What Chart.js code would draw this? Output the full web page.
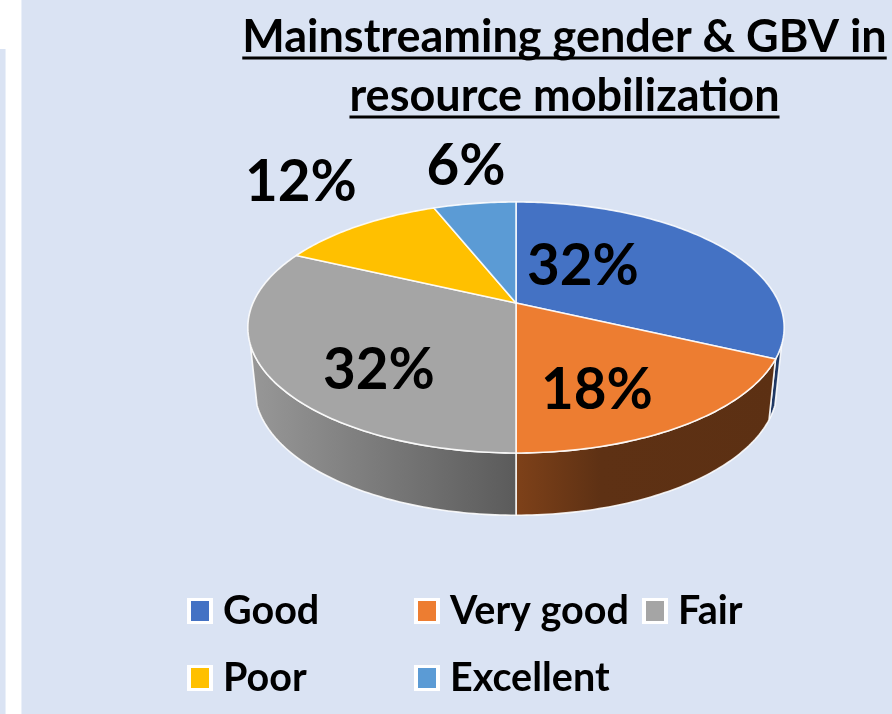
<!DOCTYPE html>
<html>
<head>
<meta charset="utf-8">
<script src="https://cdn.jsdelivr.net/npm/chart.js@4/dist/chart.umd.js"></script>
<style>
    html, body { margin: 0; padding: 0; background: #fff; }
    #page { position: relative; width: 892px; height: 714px; overflow: hidden; }
    .panel { position: absolute; background: #DAE3F3; }
    #strip { left: 0; top: 49px; width: 5px; height: 665px; border-right: 1px solid #EAF0F9; }
    #main { left: 21px; top: 0; width: 871px; height: 714px; border-left: 1px solid #EAF0F9; }
    /* the reference is a soft upscaled screenshot */
    canvas { position: absolute; left: 0; top: 0; filter: blur(0.45px); }
</style>
</head>
<body>
<div id="page">
    <div class="panel" id="strip"></div>
    <div class="panel" id="main"></div>
    <canvas id="chart" width="892" height="714"></canvas>
</div>
<script>
const titleLines = ['Mainstreaming gender & GBV in', 'resource mobilization'];
const categories = ['Good', 'Very good', 'Fair', 'Poor', 'Excellent'];
const percentages = [32, 18, 32, 12, 6];
const sliceColors = ['#4472C4', '#ED7D31', '#A5A5A5', '#FFC000', '#5B9BD5'];

// label spots relative to the pie centre, they were dragged by hand in the original
const labelOffsets = [[67, -36], [81, 88], [-137, 68], [-215, -120], [-50, -136]];

const FONT = 'Lato, Carlito, sans-serif';
const EDGE = 'rgba(255,255,255,0.88)';

// perspective of the tilted disc
const TILT = 0.195;
const SQUASH = 0.459;
const WALL_DROP = 60;
const WALL_SCALE = 0.975;
const WALL_SQUASH = 0.478;
const WALL_FROM = 0.33;

function topPoint(arc, angle) {
    const d = 1 - TILT * Math.sin(angle);
    return [
        arc.x + arc.outerRadius * Math.cos(angle) / d,
        arc.y + arc.outerRadius * SQUASH * Math.sin(angle) / d
    ];
}

function bottomPoint(arc, angle) {
    const d = 1 - TILT * Math.sin(angle);
    return [
        arc.x + arc.outerRadius * WALL_SCALE * Math.cos(angle) / d,
        arc.y + WALL_DROP + arc.outerRadius * WALL_SCALE * WALL_SQUASH * Math.sin(angle) / d
    ];
}

function traceRim(ctx, arc, from, to, pointAt, first) {
    const steps = Math.max(2, Math.ceil(Math.abs(to - from) * 60));
    for (let i = 0; i <= steps; i++) {
        const p = pointAt(arc, from + (to - from) * i / steps);
        if (first && i === 0) {
            ctx.moveTo(p[0], p[1]);
        } else {
            ctx.lineTo(p[0], p[1]);
        }
    }
}

function wallFill(ctx, arc, index) {
    const left = arc.x - arc.outerRadius;
    const right = arc.x + arc.outerRadius;
    if (index === 0) {
        return '#1F3864';
    }
    if (index === 1) {
        const g = ctx.createLinearGradient(arc.x, 0, right, 0);
        g.addColorStop(0, '#7E4119');
        g.addColorStop(0.32, '#5E3114');
        g.addColorStop(1, '#5C3013');
        return g;
    }
    const g = ctx.createLinearGradient(left, 0, arc.x, 0);
    g.addColorStop(0, '#979797');
    g.addColorStop(1, '#5B5B5B');
    return g;
}

const piePerspective = {
    id: 'piePerspective',
    beforeDatasetsDraw(chart) {
        const { ctx } = chart;
        const arcs = chart.getDatasetMeta(0).data;
        ctx.save();
        ctx.lineJoin = 'round';
        ctx.lineWidth = 1.6;
        ctx.strokeStyle = EDGE;

        // side wall first, only the front part of the disc has one
        arcs.forEach((arc, i) => {
            const from = Math.max(arc.startAngle, WALL_FROM);
            const to = Math.min(arc.endAngle, Math.PI - WALL_FROM);
            if (to <= from) {
                return;
            }
            ctx.beginPath();
            traceRim(ctx, arc, from, to, topPoint, true);
            traceRim(ctx, arc, to, from, bottomPoint, false);
            ctx.closePath();
            ctx.fillStyle = wallFill(ctx, arc, i);
            ctx.fill();
            ctx.stroke();
        });

        arcs.forEach((arc, i) => {
            ctx.beginPath();
            ctx.moveTo(arc.x, arc.y);
            traceRim(ctx, arc, arc.startAngle, arc.endAngle, topPoint, false);
            ctx.closePath();
            ctx.fillStyle = sliceColors[i];
            ctx.fill();
            ctx.stroke();
        });

        ctx.fillStyle = '#000';
        ctx.textAlign = 'center';
        ctx.textBaseline = 'middle';
        ctx.font = 'bold 56.5px ' + FONT;
        arcs.forEach((arc, i) => {
            ctx.fillText(percentages[i] + '%', arc.x + labelOffsets[i][0], arc.y + labelOffsets[i][1]);
        });
        ctx.restore();
        return false;
    }
};

const titleAndLegend = {
    id: 'titleAndLegend',
    afterDraw(chart) {
        const { ctx } = chart;
        ctx.save();
        ctx.fillStyle = '#000';
        ctx.strokeStyle = '#000';
        ctx.textBaseline = 'alphabetic';

        // title, centred on the right of the panel and underlined
        ctx.textAlign = 'center';
        ctx.font = 'bold 45px ' + FONT;
        ctx.lineWidth = 3;
        titleLines.forEach((line, i) => {
            const y = 52 + i * 59;
            ctx.fillText(line, 564.5, y);
            const half = ctx.measureText(line).width / 2;
            ctx.beginPath();
            ctx.moveTo(564.5 - half, y + 6);
            ctx.lineTo(564.5 + half, y + 6);
            ctx.stroke();
        });

        // legend in three columns, wraps after the third item
        const columns = [187, 414, 642];
        ctx.font = 'bold 39.5px ' + FONT;
        ctx.textAlign = 'left';
        ctx.textBaseline = 'middle';
        categories.forEach((name, i) => {
            const x = columns[i % 3];
            const y = 611 + Math.floor(i / 3) * 67;
            ctx.fillStyle = '#fff';
            ctx.fillRect(x, y - 13, 26, 26);
            ctx.fillStyle = sliceColors[i];
            ctx.fillRect(x + 4, y - 10, 18, 20);
            ctx.fillStyle = '#000';
            ctx.fillText(name, x + 36, y);
        });
        ctx.restore();
    }
};

new Chart(document.getElementById('chart'), {
    type: 'pie',
    data: {
        labels: categories,
        datasets: [{
            data: percentages,
            backgroundColor: sliceColors,
            borderWidth: 0
        }]
    },
    options: {
        responsive: false,
        animation: false,
        events: [],
        layout: { padding: { left: 253, right: 113, top: 40, bottom: 148 } },
        plugins: {
            legend: { display: false },
            title: { display: false },
            tooltip: { enabled: false }
        }
    },
    plugins: [piePerspective, titleAndLegend]
});
</script>
</body>
</html>
